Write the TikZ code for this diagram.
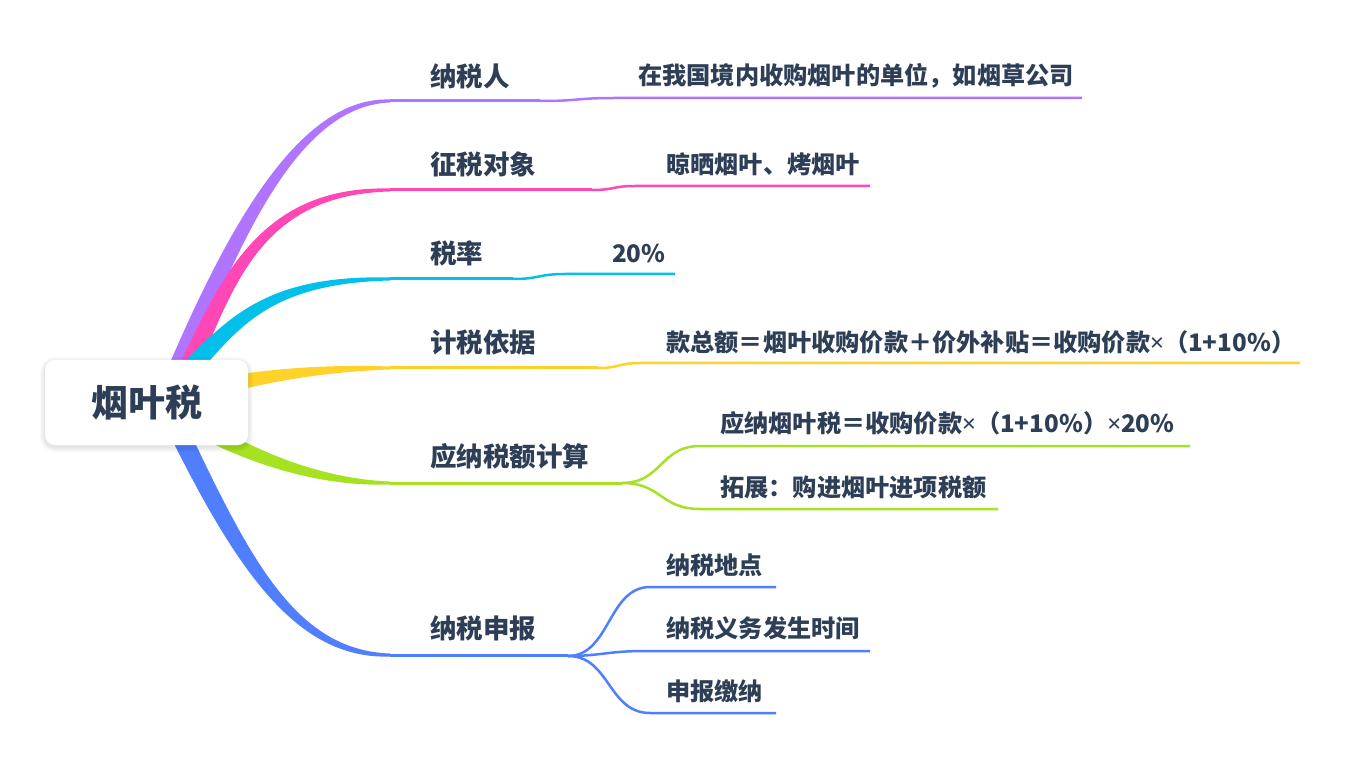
\documentclass[tikz,border=0pt]{standalone}
\usepackage{fontspec}
\setmainfont{Noto Sans CJK SC}
\newfontfamily\latinf{Noto Sans}
\usetikzlibrary{calc}
\definecolor{cpurple}{HTML}{B075FF}
\definecolor{cpink}{HTML}{FF47B6}
\definecolor{ccyan}{HTML}{02C0EA}
\definecolor{cyellow}{HTML}{FFD22A}
\definecolor{clime}{HTML}{A6E222}
\definecolor{cblue}{HTML}{4F7FFF}
\definecolor{txt}{HTML}{2D3E56}
\newcommand\tms{{\latinf\bfseries ×}}
\tikzset{
  mainlbl/.style={anchor=west,inner sep=0pt,font=\fontsize{26.5}{30}\selectfont\bfseries,text=txt},
  sublbl/.style={anchor=west,inner sep=0pt,font=\fontsize{24.2}{28}\selectfont\bfseries,text=txt},
  uline/.style={line width=3pt},
  sline/.style={line width=2.5pt},
}
% color, y1, origin, first control, second control x
\newcommand\mbranch[5]{%
  \coordinate (o) at (#3); \coordinate (c) at (#4);
  \fill[#1] ($(o)!10pt!90:(c)$) .. controls ($(c)!9pt!-90:(o)$) and (#5,#2-5) .. (390,#2-1.5)
    -- (390,#2+1.5) .. controls (#5,#2+5) and ($(c)!9pt!90:(o)$) .. ($(o)!10pt!-90:(c)$) -- cycle;}
\begin{document}
\begin{tikzpicture}[x=1pt,y=-1pt]
\useasboundingbox (0,0) rectangle (1345,759);
\fill[white] (0,0) rectangle (1345,759);
% main branches
\mbranch{cpurple}{101}{163,405}{226,250}{293}
\mbranch{cpink}{190}{171,405}{221,305}{245}
\mbranch{ccyan}{279}{160,400}{224,340}{246}
\mbranch{cyellow}{368}{170,398}{220,385}{290}
\mbranch{clime}{483}{170,408}{215,440}{300}
\mbranch{cblue}{655}{166,405}{238,555}{291}
% root
\foreach \i in {1,...,5}{
  \fill[black,opacity=0.018,rounded corners={10pt+\i pt}] (45-\i,360-\i+2) rectangle (248+\i,445+\i+2);
}
\node[fill=white,rounded corners=10pt,minimum width=203pt,minimum height=85pt,inner sep=0pt,
  font=\fontsize{37}{40}\selectfont\bfseries,text=txt] (root) at (146.5,402.5) {烟叶税};
% labels
\node[mainlbl] (l1) at (430,76) {纳税人};
\node[mainlbl] (l2) at (430,164) {征税对象};
\node[mainlbl] (l3) at (430,253) {税率};
\node[mainlbl] (l4) at (430,342) {计税依据};
\node[mainlbl] (l5) at (430,456) {应纳税额计算};
\node[mainlbl] (l6) at (430,628) {纳税申报};
\node[sublbl] (s1) at (638,76) {在我国境内收购烟叶的单位，如烟草公司};
\node[sublbl] (s2) at (666,164) {晾晒烟叶、烤烟叶};
\node[sublbl] (s3) at (612,253) {20\%};
\node[sublbl] (s4) at (666,342) {款总额＝烟叶收购价款＋价外补贴＝收购价款\tms（1+10\%）};
\node[sublbl] (s5a) at (720,423) {应纳烟叶税＝收购价款\tms（1+10\%）\tms 20\%};
\node[sublbl] (s5b) at (720,487) {拓展：购进烟叶进项税额};
\node[sublbl] (s6a) at (666,565) {纳税地点};
\node[sublbl] (s6b) at (666,628) {纳税义务发生时间};
\node[sublbl] (s6c) at (666,691) {申报缴纳};
% underlines and sub connectors
\draw[cpurple,uline] (390,101) -- (540,101);
\draw[cpurple,sline] (540,101) .. controls (580,101) and (575,98) .. (615,98) -- (1082,98);
\draw[cpink,uline] (390,190) -- (592,190);
\draw[cpink,sline] (592,190) .. controls (615,190) and (612,186) .. (635,186) -- (870,186);
\draw[ccyan,uline] (390,279) -- (513,279);
\draw[ccyan,sline] (513,279) .. controls (540,279) and (538,274) .. (565,274) -- (675,274);
\draw[cyellow,uline] (390,368) -- (598,368);
\draw[cyellow,sline] (598,368) .. controls (620,368) and (618,363) .. (640,363) -- (1300,363);
\draw[clime,uline] (390,483) -- (622,483);
\draw[clime,sline] (622,483) .. controls (662,483) and (660,446) .. (700,446) -- (1190,446);
\draw[clime,sline] (622,483) .. controls (662,483) and (660,509) .. (700,509) -- (998,509);
\draw[cblue,uline] (390,655) -- (568,655);
\draw[cblue,sline] (568,656) .. controls (610,656) and (608,587) .. (650,587) -- (776,587);
\draw[cblue,sline] (568,656) .. controls (600,656) and (608,651) .. (645,651) -- (870,651);
\draw[cblue,sline] (568,656) .. controls (610,656) and (608,713) .. (650,713) -- (776,713);
\end{tikzpicture}
\end{document}
